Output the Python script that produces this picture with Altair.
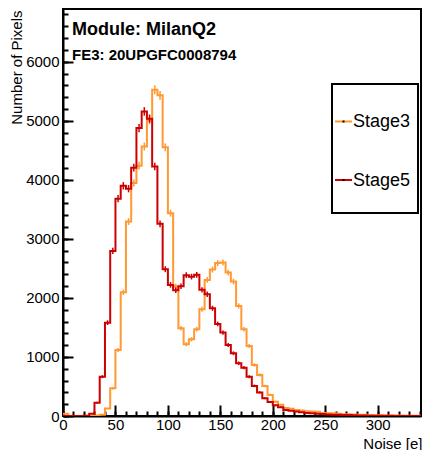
import altair as alt
import pandas as pd
import numpy as np

# ---------------- data ----------------
BIN_WIDTH = 5
bin_edges = list(range(0, 345, BIN_WIDTH))  # 69 bins, 0..345

stage3_counts = [
    40, 0, 0, 0, 0, 0, 8, 20, 125, 469,
    1119, 2095, 3293, 3944, 4240, 4564, 5010, 5525, 5430, 4550,
    3435, 2192, 1486, 1215, 1300, 1469, 1808, 2305, 2480, 2590,
    2600, 2429, 2276, 1864, 1469, 1186, 864, 695, 508, 356,
    242, 190, 135, 122, 100, 95, 80, 75, 70, 50,
    48, 45, 40, 30, 28, 25, 22, 20, 15, 12,
    12, 10, 10, 8, 8, 6, 6, 5, 4,
]
stage5_counts = [
    0, 0, 0, 0, 5, 40, 225, 666, 1581, 2795,
    3680, 3898, 3850, 4205, 4876, 5158, 5035, 4225, 3254, 2486,
    2220, 2130, 2198, 2385, 2360, 2390, 2136, 2062, 1825, 1559,
    1412, 1203, 1062, 893, 819, 666, 510, 400, 300, 235,
    180, 150, 100, 88, 75, 65, 50, 45, 40, 35,
    25, 20, 20, 15, 15, 12, 10, 8, 6, 5,
    4, 3, 3, 2, 2, 1, 1, 1, 0,
]
series_names = ["Stage3", "Stage5"]
series_colors = ["#ff9933", "#cc0000"]

module_label = "Module: MilanQ2"
fe_label = "FE3: 20UPGFC0008794"
x_title = "Noise [e]"
y_title = "Number of Pixels"

x_major_ticks = [0, 50, 100, 150, 200, 250, 300]
x_minor_ticks = list(range(0, 341, 10))
y_major_ticks = [0, 1000, 2000, 3000, 4000, 5000, 6000]
y_minor_ticks = list(range(0, 6801, 200))

W, H = 358, 407
X_DOMAIN = [0, W / 1.049]
Y_DOMAIN = [0, H / 0.05905]
FONT = "Liberation Sans"


def step_df(counts):
    xs = bin_edges + [bin_edges[-1] + BIN_WIDTH]
    ys = list(counts) + [counts[-1]]
    return pd.DataFrame({"x": xs, "y": ys})


def err_df(counts):
    c = np.array(counts, dtype=float)
    centers = np.array(bin_edges, dtype=float) + BIN_WIDTH / 2
    m = c > 0
    return pd.DataFrame({"x": centers[m], "lo": (c - np.sqrt(c))[m], "hi": (c + np.sqrt(c))[m]})


xscale = alt.Scale(domain=X_DOMAIN, nice=False, zero=False)
yscale = alt.Scale(domain=Y_DOMAIN, nice=False, zero=False)

x_label_axis = alt.Axis(
    orient="bottom", values=x_major_ticks, ticks=False, tickSize=0, labelPadding=1.5,
    labelFlush=False, labelOverlap=False, domain=True, domainColor="black", domainWidth=2,
    grid=False, title=x_title, titleX=W + 1, titleY=32, titleAlign="right",
    titleBaseline="alphabetic", format="d",
)
y_label_axis = alt.Axis(
    orient="left", values=y_major_ticks, ticks=False, tickSize=0, labelPadding=4,
    labelFlush=False, labelOverlap=False, domain=True, domainColor="black", domainWidth=2,
    grid=False, title=y_title, titleX=-54, titleY=1, titleAngle=270, titleAlign="right",
    titleBaseline="top", format="d",
)
x_major_axis = alt.Axis(orient="top", offset=-H, values=x_major_ticks, labels=False,
                        domain=False, tickSize=11, tickWidth=2, tickColor="black",
                        grid=False, title=None)
y_major_axis = alt.Axis(orient="right", offset=-W, values=y_major_ticks, labels=False,
                        domain=False, tickSize=10, tickWidth=2, tickColor="black",
                        grid=False, title=None)
x_minor_axis = alt.Axis(orient="top", offset=-H, values=x_minor_ticks, labels=False,
                        domain=False, tickSize=5, tickWidth=2, tickColor="black",
                        grid=False, title=None)
y_minor_axis = alt.Axis(orient="right", offset=-W, values=y_minor_ticks, labels=False,
                        domain=False, tickSize=5, tickWidth=2, tickColor="black",
                        grid=False, title=None)


def line_layer(counts, color, xaxis, yaxis):
    return alt.Chart(step_df(counts)).mark_line(
        interpolate="step-after", color=color, strokeWidth=2, clip=True
    ).encode(
        x=alt.X("x:Q", scale=xscale, axis=xaxis),
        y=alt.Y("y:Q", scale=yscale, axis=yaxis),
    )


def err_layer(counts, color, xaxis, yaxis):
    return alt.Chart(err_df(counts)).mark_rule(color=color, strokeWidth=1.5, clip=True).encode(
        x=alt.X("x:Q", scale=xscale, axis=xaxis),
        y=alt.Y("lo:Q", scale=yscale, axis=yaxis),
        y2="hi:Q",
    )


orange_line = line_layer(stage3_counts, series_colors[0], x_label_axis, y_label_axis)
orange_err = err_layer(stage3_counts, series_colors[0], x_major_axis, y_major_axis)
red_line = line_layer(stage5_counts, series_colors[1], x_minor_axis, y_minor_axis)
red_err = err_layer(stage5_counts, series_colors[1], None, None)

module_text = alt.Chart(pd.DataFrame({"t": [module_label]})).mark_text(
    font=FONT, fontSize=18, fontWeight="bold", align="left", baseline="alphabetic", color="black"
).encode(text="t:N", x=alt.value(9), y=alt.value(26))

fe_text = alt.Chart(pd.DataFrame({"t": [fe_label]})).mark_text(
    font=FONT, fontSize=15, fontWeight="bold", align="left", baseline="alphabetic", color="black"
).encode(text="t:N", x=alt.value(9), y=alt.value(51))

legend_box = alt.Chart(pd.DataFrame({"t": ["legend"]})).mark_rect(
    fill="white", stroke="black", strokeWidth=2
).encode(x=alt.value(269), x2=alt.value(355), y=alt.value(75), y2=alt.value(204))

legend_layers = []
for i, (name, color) in enumerate(zip(series_names, series_colors)):
    yy = 112.5 + 58.5 * i
    d = pd.DataFrame({"t": [name]})
    legend_layers.append(
        alt.Chart(d).mark_rule(color=color, strokeWidth=2).encode(
            x=alt.value(272), x2=alt.value(289), y=alt.value(yy))
    )
    legend_layers.append(
        alt.Chart(d).mark_square(color="black", size=4, opacity=1).encode(
            x=alt.value(280.5), y=alt.value(yy))
    )
    legend_layers.append(
        alt.Chart(d).mark_text(font=FONT, fontSize=18, align="left", baseline="middle",
                               color="black").encode(
            text="t:N", x=alt.value(290), y=alt.value(yy + 0.5))
    )

chart = alt.layer(
    orange_line, orange_err, red_line, red_err, module_text, fe_text, legend_box, *legend_layers
).resolve_axis(
    x="independent", y="independent"
).properties(
    width=W, height=H,
    autosize=alt.AutoSizeParams(type="none"),
    padding={"left": 55, "top": 1, "right": 2, "bottom": 34},
).configure_view(
    stroke="black", strokeWidth=2
).configure_axis(
    labelFont=FONT, titleFont=FONT, labelColor="black", titleColor="black",
    labelFontSize=15, titleFontSize=15, titleFontWeight="normal",
)

chart.save("out.html", embed_options={"renderer": "svg", "actions": False})
